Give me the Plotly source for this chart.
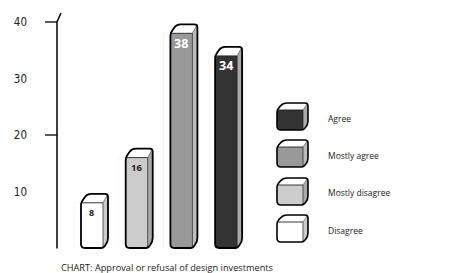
import plotly.graph_objects as go

# ---------------- data ----------------
categories = ["Disagree", "Mostly disagree", "Mostly agree", "Agree"]
values = [8, 16, 38, 34]
front_colors = ["#ffffff", "#cccccc", "#999999", "#333333"]
side_colors = ["#cccccc", "#aaaaaa", "#bbbbbb", "#aaaaaa"]
label_colors = ["#222222", "#222222", "#ffffff", "#ffffff"]
label_sizes = [9, 9.5, 12.5, 12.5]
y_ticks = [10, 20, 30, 40]
y_tick_marks = [20, 40]
legend_order = ["Agree", "Mostly agree", "Mostly disagree", "Disagree"]
caption = "CHART: Approval or refusal of design investments"

# ---------------- layout constants ----------------
W, H = 471, 273
AX_PX = 57            # x pixel of the value axis
PX_PER_X = 44.7       # pixels per category step
PX_PER_Y = 5.65       # pixels per value unit
ZERO_PY = 248         # screen y of value 0
X_LO = -(92 - AX_PX) / PX_PER_X
X_HI = X_LO + (W - AX_PX) / PX_PER_X
Y_LO = -(H - ZERO_PY) / PX_PER_Y
Y_HI = ZERO_PY / PX_PER_Y

FONT = "Liberation Sans Narrow, DejaVu Sans Condensed, Open Sans, sans-serif"
TEXT_FONT = "Open Sans, Noto Sans, sans-serif"


def rounded_path(pts, radii, conv):
    n = len(pts)
    segs = []
    for i in range(n):
        p = pts[i]
        prev = pts[i - 1]
        nxt = pts[(i + 1) % n]
        r = radii[i]

        def toward(q, d):
            vx, vy = q[0] - p[0], q[1] - p[1]
            ln = (vx * vx + vy * vy) ** 0.5
            d = min(d, ln / 2)
            return (p[0] + vx / ln * d, p[1] + vy / ln * d)

        if r > 0:
            a, b = toward(prev, r), toward(nxt, r)
        else:
            a = b = p
        segs.append((a, p, b))
    out = []
    for i, (a, p, b) in enumerate(segs):
        ax, ay = conv(*a)
        px, py = conv(*p)
        bx, by = conv(*b)
        out.append(("M" if i == 0 else "L") + f"{ax:.4f},{ay:.4f}")
        out.append(f"Q{px:.4f},{py:.4f} {bx:.4f},{by:.4f}")
    return " ".join(out) + " Z"


def line_path(p1, p2, conv):
    x1, y1 = conv(*p1)
    x2, y2 = conv(*p2)
    return f"M{x1:.4f},{y1:.4f} L{x2:.4f},{y2:.4f}"


def cube_shapes(L, R, S, base, top, d, dx, b, front, side, conv, xref, yref, lw=1.6):
    """3D block: pixel-like coordinates with y pointing up."""
    shp = []
    sil = [(L, base), (L, top), (L + dx, top + d), (S, top + d), (S, base + b), (R, base)]
    sil_r = [4, 2.5, 4, 3, 4, 1.5]
    common = dict(type="path", xref=xref, yref=yref, layer="above")
    shp.append(dict(path=rounded_path(sil, sil_r, conv), fillcolor=side,
                    line=dict(width=0), **common))
    fr = [(L, base), (R, base), (R, top), (L, top)]
    shp.append(dict(path=rounded_path(fr, [4, 0, 0, 2.5], conv), fillcolor=front,
                    line=dict(width=0), **common))
    tp = [(L, top), (L + dx, top + d), (S, top + d), (R, top)]
    shp.append(dict(path=rounded_path(tp, [2.5, 4, 0, 0], conv), fillcolor="#ffffff",
                    line=dict(width=0), **common))
    shp.append(dict(path=line_path((L, top), (R, top), conv), line=dict(color="#222", width=0.9), **common))
    shp.append(dict(path=line_path((R, top), (R, base), conv), line=dict(color="#222", width=0.7), **common))
    shp.append(dict(path=line_path((R, top), (S, top + d), conv), line=dict(color="#444", width=0.6), **common))
    shp.append(dict(path=rounded_path(sil, sil_r, conv), fillcolor="rgba(0,0,0,0)",
                    line=dict(color="#000", width=lw), **common))
    return shp


def x_to_px(x):
    return AX_PX + (x - X_LO) * PX_PER_X


def bar_conv(px, py_up):
    # pixel-like -> data coordinates (through the axis scales)
    return X_LO + (px - AX_PX) / PX_PER_X, py_up / PX_PER_Y


def paper_conv(px, py_up):
    return px / W, py_up / H


shapes = []
annotations = []

# bars
for i, v in enumerate(values):
    cx = x_to_px(i)
    top = v * PX_PER_Y
    shapes += cube_shapes(cx - 11, cx + 11, cx + 16, 0, top, 9, 6, 6,
                          front_colors[i], side_colors[i], bar_conv, "x", "y", lw=1.8)
    annotations.append(dict(x=i, y=v, xref="x", yref="y", text=f"<b>{v}</b>",
                            showarrow=False, yshift=-10, xshift=-0.5,
                            font=dict(family=TEXT_FONT, size=label_sizes[i], color=label_colors[i])))

# value axis (drawn line with hand-made slanted top)
top_tick = max(y_ticks)
shapes.append(dict(type="path", xref="paper", yref="y",
                   path=f"M{AX_PX / W:.4f},{-0.1:.3f} L{AX_PX / W:.4f},{top_tick} "
                        f"L{(AX_PX + 4) / W:.4f},{top_tick + 9 / PX_PER_Y:.3f}",
                   line=dict(color="#000", width=1.5)))
for t in y_tick_marks:
    shapes.append(dict(type="line", xref="paper", yref="y", x0=(AX_PX - 12) / W, x1=AX_PX / W,
                       y0=t, y1=t, line=dict(color="#000", width=1.3)))

# legend
legend_bottoms = [130, 167, 205, 242]
for name, bot in zip(legend_order, legend_bottoms):
    i = categories.index(name)
    base_up = H - bot
    shapes += cube_shapes(277, 303, 308, base_up, base_up + 20, 7, 6, 5,
                          front_colors[i], side_colors[i], paper_conv, "paper", "paper", lw=1.6)
    annotations.append(dict(x=326 / W, y=(base_up + 12) / H, xref="paper", yref="paper",
                            text=name, showarrow=False, xanchor="left", yanchor="middle",
                            font=dict(family=TEXT_FONT, size=8.5, color="#222")))

annotations.append(dict(x=59 / W, y=(H - 267) / H, xref="paper", yref="paper", text=caption,
                        showarrow=False, xanchor="left", yanchor="middle",
                        font=dict(family=TEXT_FONT, size=9.2, color="#222")))

fig = go.Figure()
fig.add_trace(go.Bar(x=list(range(len(values))), y=values, marker=dict(color="rgba(0,0,0,0)"),
                     hoverinfo="skip", showlegend=False, text=categories, textposition="none"))

fig.update_layout(
    width=W, height=H,
    margin=dict(l=0, r=0, t=0, b=0),
    paper_bgcolor="#ffffff", plot_bgcolor="#ffffff",
    showlegend=False,
    shapes=shapes, annotations=annotations,
    xaxis=dict(domain=[AX_PX / W, 1], range=[X_LO, X_HI], visible=False, fixedrange=True),
    yaxis=dict(domain=[0, 1], range=[Y_LO, Y_HI], tickvals=y_ticks,
               ticktext=[str(t) for t in y_ticks], ticks="", showline=False,
               showgrid=False, zeroline=False, ticklabelstandoff=29,
               tickfont=dict(family=FONT, size=11.5, color="#222"), fixedrange=True),
)

fig.write_html("out.html", config={"displayModeBar": False},
               post_script="document.body.style.margin='0';document.body.style.overflow='hidden';")
